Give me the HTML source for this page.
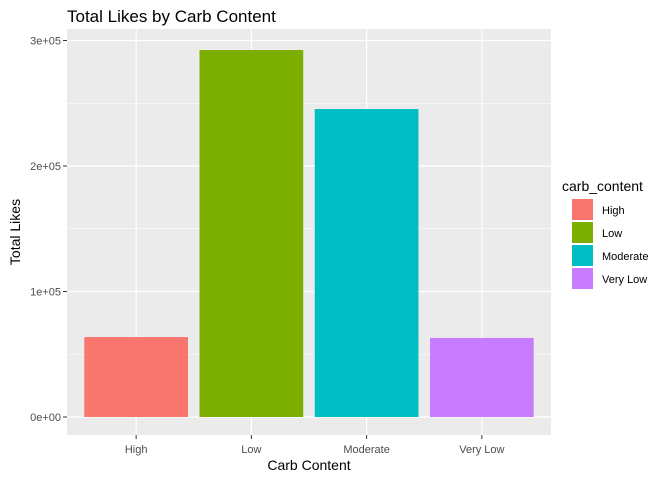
<!DOCTYPE html>
<html><head><meta charset="utf-8"><style>
body{margin:0;background:#fff;font-family:"Liberation Sans",Arial,sans-serif;}
</style></head><body>
<svg id="chart" width="672" height="480" xmlns="http://www.w3.org/2000/svg">
<text x="67" y="22" font-size="17" fill="#000">Total Likes by Carb Content</text>
<rect x="67" y="29" width="484" height="406" fill="#ebebeb"/>
<g id="grid"></g>
<g id="bars"></g>
<g id="yaxis"></g>
<g id="xaxis"></g>
<text x="309" y="470" font-size="14" text-anchor="middle" fill="#000">Carb Content</text>
<text x="0" y="0" font-size="14" text-anchor="middle" fill="#000" transform="translate(20,232) rotate(-90)">Total Likes</text>
<g id="legend">
<text x="562" y="191" font-size="14" fill="#000">carb_content</text>
</g>
</svg>
<script>
const categories=["High","Low","Moderate","Very Low"];
const values=[63700,292400,245400,63000];
const colors=["#F8766D","#7CAE00","#00BFC4","#C77CFF"];
const yTicks=[0,100000,200000,300000];
const yTickLabels=["0e+00","1e+05","2e+05","3e+05"];
const NS="http://www.w3.org/2000/svg";
const px0=67,px1=551,py0=29,py1=435;
const y0px=417,perUnit=125.5/100000;
function yScale(v){return y0px-v*perUnit;}
const band=(px1-px0)/(categories.length-1+1.2);
function xScale(i){return px0+band*0.6+band*i;}
function mk(tag,attrs,parent){const e=document.createElementNS(NS,tag);for(const k in attrs)e.setAttribute(k,attrs[k]);parent.appendChild(e);return e;}
const grid=document.getElementById('grid'),bars=document.getElementById('bars'),ya=document.getElementById('yaxis'),xa=document.getElementById('xaxis'),lg=document.getElementById('legend');
for(let i=0;i<yTicks.length-1;i++){
  const m=(yScale(yTicks[i])+yScale(yTicks[i+1]))/2;
  const l=mk('line',{x1:px0,x2:px1,y1:m,y2:m,stroke:'#fff','stroke-width':0.6},grid);
  
  
}
yTicks.forEach((t,i)=>{
  const y=yScale(t);
  const l=mk('line',{x1:px0,x2:px1,y1:y,y2:y,stroke:'#fff','stroke-width':1.2},grid);
  
  
  mk('line',{x1:px0-4,x2:px0,y1:y,y2:y,stroke:'#333','stroke-width':1},ya);
  const tx=mk('text',{x:px0-6,y:y+4,'font-size':11,'text-anchor':'end',fill:'#4d4d4d'},ya);
  tx.textContent=yTickLabels[i];
  
  
});
categories.forEach((c,i)=>{
  const cx=xScale(i);
  const g=mk('line',{x1:cx,x2:cx,y1:py0,y2:py1,stroke:'#fff','stroke-width':1.2},grid);
  
  
  const w=band*0.9;
  const r=mk('rect',{x:cx-w/2,y:yScale(values[i]),width:w,height:yScale(0)-yScale(values[i]),fill:colors[i]},bars);
  
  
  mk('line',{x1:cx,x2:cx,y1:py1,y2:py1+4,stroke:'#333','stroke-width':1},xa);
  const t=mk('text',{x:cx,y:py1+18,'font-size':11,'text-anchor':'middle',fill:'#4d4d4d'},xa);
  t.textContent=c;
  
  
  const ly=199+i*23;
  const lr=mk('rect',{x:572,y:ly,width:21,height:21,fill:colors[i]},lg);
  
  
  const lt=mk('text',{x:602,y:ly+15,'font-size':11,fill:'#000'},lg);
  lt.textContent=c;
  
  
});
</script>
</body></html>
